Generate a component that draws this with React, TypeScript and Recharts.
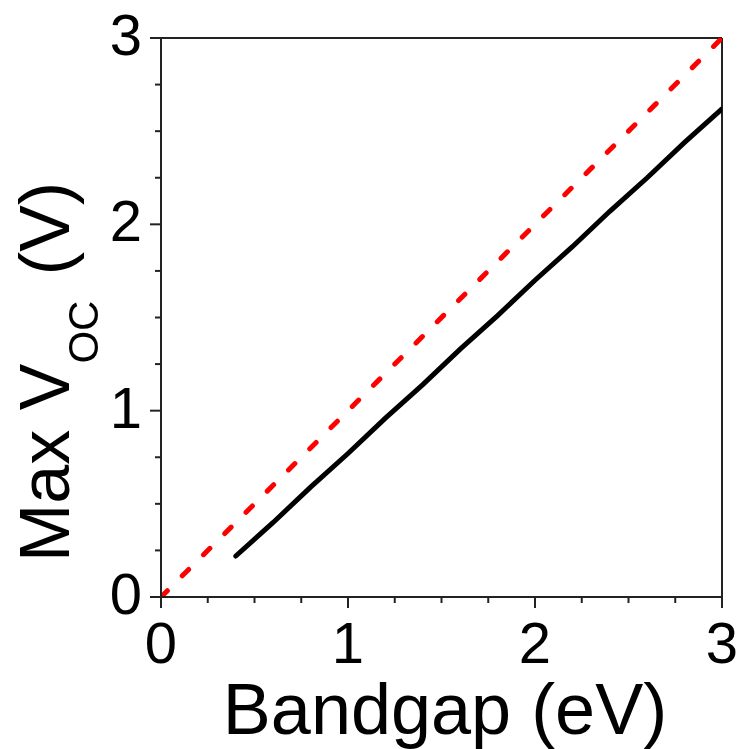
import { Label, Line, LineChart, ReferenceLine, XAxis, YAxis } from 'recharts';

// bandgap (eV) vs max open-circuit voltage (V)
const bandgap = [0.4, 0.6, 0.8, 1.0, 1.2, 1.4, 1.6, 1.8, 2.0, 2.2, 2.4, 2.6, 2.8, 3.0];
const maxVoc = [0.22, 0.4, 0.59, 0.77, 0.96, 1.14, 1.33, 1.51, 1.7, 1.88, 2.07, 2.25, 2.44, 2.62];

// ideal limit Voc = Eg / q
const idealX = [0, 3];
const idealY = [0, 3];

const xTicks = [0, 0.25, 0.5, 0.75, 1, 1.25, 1.5, 1.75, 2, 2.25, 2.5, 2.75, 3];
const yTicks = [0, 0.25, 0.5, 0.75, 1, 1.25, 1.5, 1.75, 2, 2.25, 2.5, 2.75, 3];

const vocData = bandgap.map((x, i) => ({ x, y: maxVoc[i] }));
const idealData = idealX.map((x, i) => ({ x, y: idealY[i] }));

const FONT = '"Liberation Sans", Arial, sans-serif';
const AXIS = '#222';

const isMajor = (v: number) => Number.isInteger(v);

function XTick(props: any) {
  const { x, y, payload } = props;
  const major = isMajor(payload.value);
  return (
    <g>
      <line x1={x} x2={x} y1={y} y2={y + (major ? 11 : 6)} stroke={AXIS} strokeWidth={2} />
      {major && (
        <text x={x} y={y + 66} textAnchor="middle" fontSize={58} fontFamily={FONT} fill="#000">
          {payload.value}
        </text>
      )}
    </g>
  );
}

function YTick(props: any) {
  const { x, y, payload } = props;
  const major = isMajor(payload.value);
  return (
    <g>
      <line x1={x} x2={x - (major ? 11 : 6)} y1={y} y2={y} stroke={AXIS} strokeWidth={2} />
      {major && (
        <text x={x - 19} y={y + 17} textAnchor="end" fontSize={58} fontFamily={FONT} fill="#000">
          {payload.value}
        </text>
      )}
    </g>
  );
}

function YTitle() {
  const bx = 69;
  const by = 562;
  return (
    <text
      x={bx}
      y={by}
      transform={`rotate(-90, ${bx}, ${by})`}
      fontSize={70}
      fontFamily={FONT}
      fill="#000"
    >
      Max V
      <tspan fontSize={42} dy={29}>OC</tspan>
      <tspan dy={-29} dx={6}> (V)</tspan>
    </text>
  );
}

export default function App() {
  return (
    <div style={{ position: 'fixed', left: 0, top: 0 }}>
      <LineChart
        width={739}
        height={749}
        margin={{ top: 38, right: 17, bottom: 0, left: 0 }}
        style={{ fontFamily: FONT }}
      >
        <XAxis
          type="number"
          dataKey="x"
          domain={[0, 3]}
          ticks={xTicks}
          tick={<XTick />}
          tickLine={false}
          tickSize={0}
          tickMargin={0}
          height={152}
          axisLine={{ stroke: AXIS, strokeWidth: 2 }}
          allowDataOverflow
        >
          <Label
            content={() => (
              <text x={445} y={734} textAnchor="middle" fontSize={72} fontFamily={FONT} fill="#000">
                Bandgap (eV)
              </text>
            )}
          />
        </XAxis>
        <YAxis
          type="number"
          domain={[0, 3]}
          ticks={yTicks}
          tick={<YTick />}
          tickLine={false}
          tickSize={0}
          tickMargin={0}
          width={161}
          axisLine={{ stroke: AXIS, strokeWidth: 2 }}
          allowDataOverflow
        >
          <Label content={() => <YTitle />} />
        </YAxis>
        <ReferenceLine y={3} stroke={AXIS} strokeWidth={2} />
        <ReferenceLine x={3} stroke={AXIS} strokeWidth={2} />
        <Line
          data={idealData}
          dataKey="y"
          type="linear"
          stroke="#ff0000"
          strokeWidth={5}
          strokeDasharray="9 21"
          strokeLinecap="round"
          dot={false}
          isAnimationActive={false}
        />
        <Line
          data={vocData}
          dataKey="y"
          type="linear"
          stroke="#000"
          strokeWidth={5}
          strokeLinecap="round"
          dot={false}
          isAnimationActive={false}
        />
      </LineChart>
    </div>
  );
}
